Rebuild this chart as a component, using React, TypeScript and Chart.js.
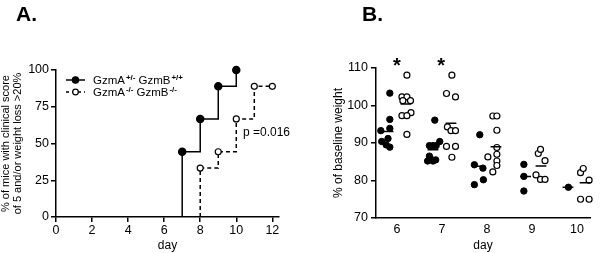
import React, { useEffect, useRef } from "react";
import { Chart, registerables } from "chart.js";

Chart.register(...registerables);

const FONT = "'Liberation Sans', Arial, sans-serif";

// ---------- Panel A data ----------
const panelATitle = "A.";
const filledDaysA = [7, 7, 8, 9, 10];
const filledPctA = [0, 44.4, 66.7, 88.9, 100];
const openDaysA = [8, 8, 9, 10, 11, 12];
const openPctA = [0, 33.3, 44.4, 66.7, 88.9, 88.9];
const xTicksA = [0, 2, 4, 6, 8, 10, 12];
const yTicksA = [0, 25, 50, 75, 100];
const yTitleA = ["% of mice with clinical score", "of 5 and/or weight loss >20%"];
const xTitle = "day";
const legendRow1 = [["GzmA", "+/-"], ["GzmB", "+/+"]];
const legendRow2 = [["GzmA", "-/-"], ["GzmB", "-/-"]];
const pValueText = "p =0.016";

// ---------- Panel B data ----------
const panelBTitle = "B.";
const daysB = [6, 7, 8, 9, 10];
const yTicksB = [70, 80, 90, 100, 110];
const yTitleB = "% of baseline weight";
const filledX = [
  5.84, 5.84, 5.84, 5.64, 5.8, 5.66, 5.76, 5.84,
  6.84, 6.95, 6.72, 6.8, 6.87, 6.72, 6.78, 6.86, 6.68, 6.8,
  7.84, 7.72, 7.91, 7.92, 7.72,
  8.82, 8.82, 8.82,
  9.81,
];
const filledY = [
  103.3, 96.3, 93.9, 93.3, 91.2, 90.4, 89.5, 88.9,
  96.1, 90.4, 89.3, 89.3, 89.3, 86.5, 85.5, 85.5, 85.2, 85.2,
  92.2, 84.2, 83.3, 80.2, 78.9,
  84.3, 81.1, 77.2,
  78.2,
];
const openX = [
  6.22, 6.11, 6.22, 6.13, 6.3, 6.31, 6.11, 6.22, 6.22,
  7.22, 7.1, 7.3, 7.12, 7.2, 7.3, 7.1, 7.3, 7.22,
  8.13, 8.22, 8.22, 8.22, 8.22, 8.02, 8.22, 8.22, 8.13,
  9.14, 9.19, 9.29, 9.09, 9.19, 9.29,
  10.08, 10.14, 10.27, 10.08, 10.27,
];
const openY = [
  108.1, 102.3, 102.3, 101.3, 101.3, 98.1, 97.3, 97.3, 92.3,
  108.1, 103.2, 102.3, 94.3, 93.3, 93.3, 89.1, 89.1, 86.2,
  97.2, 97.2, 93.4, 88.8, 87, 86.3, 85.2, 84, 82.3,
  87.2, 88.3, 85.3, 81.5, 80.3, 80.3,
  82.1, 83.2, 80.1, 75, 75,
];
const filledMeanX = [5.8, 6.8, 7.8, 8.86, 9.8];
const filledMeans = [93.1, 88.2, 83.8, 81.1, 78.2];
const openMeanX = [6.2, 7.2, 8.2, 9.2, 10.18];
const openMeans = [100.4, 95.3, 89.0, 83.9, 79.4];
const starDays = [6.0, 6.98];
const starLevel = 111.8;

const MEAN_HALF = 0.12;

function meanSegments(xs: number[], ms: number[]) {
  const out: any[] = [];
  xs.forEach((cx, i) => {
    out.push({ x: cx - MEAN_HALF, y: ms[i] });
    out.push({ x: cx + MEAN_HALF, y: ms[i] });
    out.push({ x: cx, y: null });
  });
  return out;
}

function drawSupText(ctx: CanvasRenderingContext2D, parts: string[][], x: number, y: number) {
  let cx = x;
  parts.forEach(([base, sup]) => {
    ctx.font = `11.5px ${FONT}`;
    ctx.fillText(base, cx, y);
    cx += ctx.measureText(base).width + 1;
    ctx.font = `bold 8px ${FONT}`;
    ctx.fillText(sup, cx, y - 4.5);
    cx += ctx.measureText(sup).width + 3;
  });
}

const overlayA = {
  id: "overlayA",
  afterDraw(chart: any) {
    const ctx: CanvasRenderingContext2D = chart.ctx;
    ctx.save();
    ctx.fillStyle = "#000";
    ctx.strokeStyle = "#000";
    ctx.textAlign = "left";
    ctx.textBaseline = "alphabetic";
    ctx.font = `bold 21px ${FONT}`;
    ctx.fillText(panelATitle, 16, 21);

    const rows = [
      { parts: legendRow1, filled: true, dash: [] as number[], y: 80 },
      { parts: legendRow2, filled: false, dash: [3, 3], y: 92 },
    ];
    rows.forEach((r) => {
      ctx.beginPath();
      ctx.setLineDash(r.dash);
      ctx.lineWidth = 1.5;
      ctx.moveTo(66, r.y);
      ctx.lineTo(85, r.y);
      ctx.stroke();
      ctx.setLineDash([]);
      ctx.beginPath();
      ctx.arc(75.5, r.y, r.filled ? 3.2 : 2.8, 0, Math.PI * 2);
      ctx.fillStyle = r.filled ? "#000" : "#fff";
      ctx.fill();
      ctx.lineWidth = 1.2;
      ctx.stroke();
      ctx.fillStyle = "#000";
      drawSupText(ctx, r.parts, 93, r.y + 4);
    });

    ctx.font = `12px ${FONT}`;
    ctx.fillText(pValueText, 243, 136);
    ctx.restore();
  },
};

const overlayB = {
  id: "overlayB",
  afterDraw(chart: any) {
    const ctx: CanvasRenderingContext2D = chart.ctx;
    ctx.save();
    ctx.fillStyle = "#000";
    ctx.textAlign = "left";
    ctx.textBaseline = "alphabetic";
    ctx.font = `bold 21px ${FONT}`;
    ctx.fillText(panelBTitle, 62, 21);
    ctx.font = `bold 20px ${FONT}`;
    ctx.textAlign = "center";
    starDays.forEach((d) => {
      const px = chart.scales.x.getPixelForValue(d);
      const py = chart.scales.y.getPixelForValue(starLevel);
      ctx.fillText("*", px, py + 11);
    });
    ctx.restore();
  },
};

const axisCommon = {
  border: { display: true, color: "#000", width: 1.5 },
  grid: {
    display: true,
    drawOnChartArea: false,
    drawTicks: true,
    tickLength: 5,
    color: "#000",
    lineWidth: 1.5,
  },
};

function PanelA() {
  const ref = useRef<HTMLCanvasElement>(null);
  useEffect(() => {
    const chart = new Chart(ref.current!, {
      type: "line",
      data: {
        datasets: [
          {
            data: filledDaysA.map((d, i) => ({ x: d, y: filledPctA[i] })),
            stepped: "before",
            borderColor: "#000",
            borderWidth: 1.5,
            backgroundColor: "#000",
            pointBackgroundColor: "#000",
            pointBorderColor: "#000",
            pointRadius: filledDaysA.map((_, i) => (i === 0 ? 0 : 3.5)),
            clip: false,
          } as any,
          {
            data: openDaysA.map((d, i) => ({ x: d, y: openPctA[i] })),
            stepped: "before",
            borderColor: "#000",
            borderWidth: 1.5,
            borderDash: [4, 3],
            pointBackgroundColor: "#fff",
            pointBorderColor: "#000",
            pointBorderWidth: 1.2,
            pointRadius: openDaysA.map((_, i) => (i === 0 ? 0 : 3)),
            clip: false,
          } as any,
        ],
      },
      options: {
        animation: false,
        responsive: false,
        layout: { padding: { left: 0, top: 70, right: 21, bottom: 0 } },
        plugins: { legend: { display: false }, tooltip: { enabled: false } },
        scales: {
          x: {
            type: "linear",
            min: 0,
            max: 12.37,
            afterBuildTicks: (s: any) => {
              s.ticks = xTicksA.map((v) => ({ value: v }));
            },
            afterFit: (s: any) => {
              s.height = 36;
            },
            ticks: { color: "#000", font: { family: FONT, size: 12.5 }, padding: 1, maxRotation: 0 },
            title: { display: true, text: xTitle, color: "#000", font: { family: FONT, size: 12 }, padding: 0 },
            ...axisCommon,
          },
          y: {
            type: "linear",
            min: 0,
            max: 100,
            afterBuildTicks: (s: any) => {
              s.ticks = yTicksA.map((v) => ({ value: v }));
            },
            afterFit: (s: any) => {
              s.width = 56;
            },
            ticks: { color: "#000", font: { family: FONT, size: 12.5 }, padding: 2 },
            title: {
              display: true,
              text: yTitleA,
              color: "#000",
              font: { family: FONT, size: 11, lineHeight: 1.1 },
              padding: { top: 0, bottom: 0 },
            },
            ...axisCommon,
          },
        } as any,
      },
      plugins: [overlayA],
    });
    return () => chart.destroy();
  }, []);
  return <canvas ref={ref} width={300} height={253} style={{ display: "block" }} />;
}

function PanelB() {
  const ref = useRef<HTMLCanvasElement>(null);
  useEffect(() => {
    const chart = new Chart(ref.current!, {
      type: "scatter",
      data: {
        datasets: [
          {
            type: "line",
            data: meanSegments(filledMeanX, filledMeans),
            borderColor: "#000",
            borderWidth: 1.5,
            pointRadius: 0,
            spanGaps: false,
            clip: false,
          } as any,
          {
            type: "line",
            data: meanSegments(openMeanX, openMeans),
            borderColor: "#000",
            borderWidth: 1.5,
            pointRadius: 0,
            spanGaps: false,
            clip: false,
          } as any,
          {
            data: filledX.map((x, i) => ({ x, y: filledY[i] })),
            pointBackgroundColor: "#000",
            pointBorderColor: "#000",
            pointBorderWidth: 1,
            pointRadius: 3.2,
            clip: false,
          } as any,
          {
            data: openX.map((x, i) => ({ x, y: openY[i] })),
            pointBackgroundColor: "#fff",
            pointBorderColor: "#000",
            pointBorderWidth: 1.2,
            pointRadius: 3,
            clip: false,
          } as any,
        ],
      },
      options: {
        animation: false,
        responsive: false,
        layout: { padding: { left: 0, top: 68, right: 10, bottom: 0 } },
        plugins: { legend: { display: false }, tooltip: { enabled: false } },
        scales: {
          x: {
            type: "linear",
            min: 5.533,
            max: 10.29,
            afterBuildTicks: (s: any) => {
              s.ticks = daysB.map((v) => ({ value: v }));
            },
            afterFit: (s: any) => {
              s.height = 35;
            },
            ticks: { color: "#000", font: { family: FONT, size: 12.5 }, padding: 4, maxRotation: 0 },
            title: { display: true, text: xTitle, color: "#000", font: { family: FONT, size: 12 }, padding: 0 },
            border: { display: true, color: "#000", width: 1.5 },
            grid: { display: false, drawTicks: false },
          },
          y: {
            type: "linear",
            min: 70,
            max: 110,
            afterBuildTicks: (s: any) => {
              s.ticks = yTicksB.map((v) => ({ value: v }));
            },
            afterFit: (s: any) => {
              s.width = 76;
            },
            ticks: { color: "#000", font: { family: FONT, size: 12.5 }, padding: 3 },
            title: {
              display: true,
              text: yTitleB,
              color: "#000",
              font: { family: FONT, size: 12 },
              padding: { top: 31, bottom: 0 },
            },
            ...axisCommon,
          },
        } as any,
      },
      plugins: [overlayB],
    });
    return () => chart.destroy();
  }, []);
  return <canvas ref={ref} width={300} height={253} style={{ display: "block" }} />;
}

export default function App() {
  return (
    <div
      style={{
        position: "fixed",
        left: 0,
        top: 0,
        width: 600,
        height: 253,
        background: "#fff",
        display: "flex",
      }}
    >
      <PanelA />
      <PanelB />
    </div>
  );
}
